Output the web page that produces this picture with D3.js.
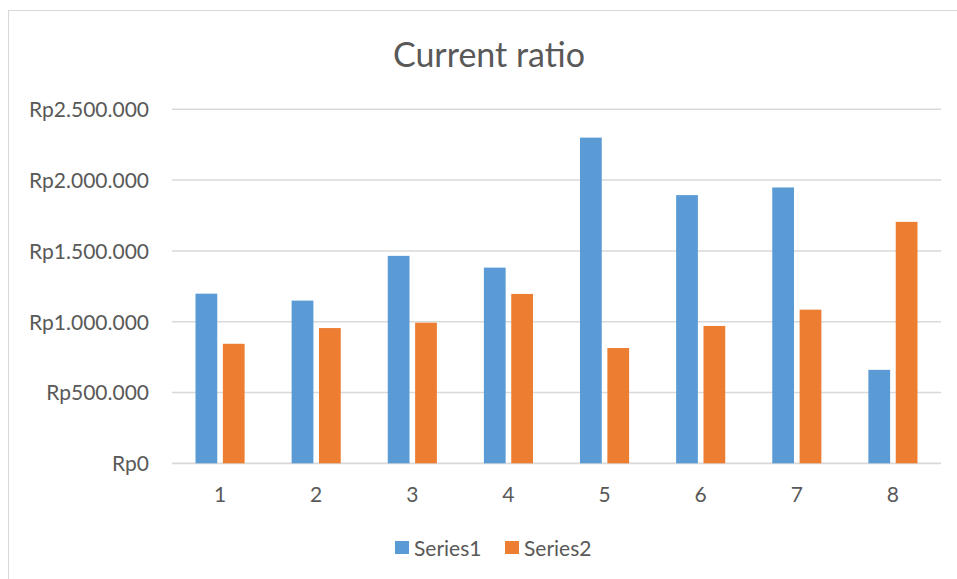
<!DOCTYPE html>
<html>
<head>
<meta charset="utf-8">
<script src="https://cdn.jsdelivr.net/npm/d3@7"></script>
<style>
  html, body { margin: 0; padding: 0; background: #fff; }
  svg { display: block; }
  text { font-family: Lato, "Open Sans", sans-serif; fill: #595959; }
</style>
</head>
<body>
<svg id="chart" width="957" height="579"></svg>
<script>
// Categories and series values (Rupiah)
const categories = ["1", "2", "3", "4", "5", "6", "7", "8"];
const seriesNames = ["Series1", "Series2"];
const series1 = [1198000, 1149000, 1465000, 1382000, 2300000, 1894000, 1948000, 660000];
const series2 = [844000, 955000, 993000, 1196000, 814000, 970000, 1085000, 1705000];
const yTicks = [0, 500000, 1000000, 1500000, 2000000, 2500000];
const colors = ["#5b9bd5", "#ed7d31"];

const svg = d3.select("#chart");
const W = 957, H = 579;
const plot = { left: 172, right: 941, top: 109.3, bottom: 463.3 };

// Outer chart frame
svg.append("rect")
  .attr("x", 8.5).attr("y", 10.5)
  .attr("width", W + 10).attr("height", H + 10)
  .attr("fill", "#fff").attr("stroke", "#d9d9d9").attr("stroke-width", 1);

// Title
svg.append("text")
  .attr("x", 489).attr("y", 67)
  .attr("text-anchor", "middle")
  .attr("font-size", 34)
  .text("Current ratio");

const x0 = d3.scaleBand().domain(categories).range([plot.left, plot.right]).padding(0);
const x1 = d3.scaleBand().domain(seriesNames)
  .range([23.5, x0.bandwidth() - 23.5]).paddingInner(0.205).paddingOuter(0);
const y = d3.scaleLinear().domain([0, 2500000]).range([plot.bottom, plot.top]);

const fmt = v => "Rp" + d3.format(",")(v).replace(/,/g, ".");

// Gridlines
svg.append("g")
  .selectAll("line")
  .data(yTicks)
  .join("line")
  .attr("x1", plot.left).attr("x2", plot.right)
  .attr("y1", d => y(d)).attr("y2", d => y(d))
  .attr("stroke", "#d9d9d9")
  .attr("stroke-width", d => d === 0 ? 1.8 : 1.5);

// Y axis labels
const yAxis = svg.append("g")
  .attr("transform", `translate(149,0)`)
  .call(d3.axisLeft(y).tickValues(yTicks).tickFormat(fmt).tickSize(0).tickPadding(0));
yAxis.select(".domain").remove();
yAxis.selectAll("text")
  .attr("font-size", 21)
  .attr("font-family", "Lato, 'Open Sans', sans-serif")
  .attr("fill", "#595959")
  .attr("dy", "0.35em");

// X axis labels
const xAxis = svg.append("g")
  .attr("transform", `translate(0,${plot.bottom})`)
  .call(d3.axisBottom(x0).tickSize(0).tickPadding(0));
xAxis.select(".domain").remove();
xAxis.selectAll("text")
  .attr("font-size", 21)
  .attr("font-family", "Lato, 'Open Sans', sans-serif")
  .attr("fill", "#595959")
  .attr("y", 38.5)
  .attr("dy", 0);

// Bars
const rows = categories.map((c, i) => ({ cat: c, vals: [series1[i], series2[i]] }));
svg.append("g")
  .selectAll("g")
  .data(rows)
  .join("g")
  .attr("transform", d => `translate(${x0(d.cat)},0)`)
  .selectAll("rect")
  .data(d => d.vals.map((v, k) => ({ name: seriesNames[k], v, k })))
  .join("rect")
  .attr("x", d => x1(d.name))
  .attr("width", x1.bandwidth())
  .attr("y", d => y(d.v))
  .attr("height", d => y(0) - y(d.v))
  .attr("fill", d => colors[d.k]);

// Legend
const legendItems = [
  { name: seriesNames[0], color: colors[0], x: 395 },
  { name: seriesNames[1], color: colors[1], x: 505 }
];
const lg = svg.append("g").selectAll("g").data(legendItems).join("g")
  .attr("transform", d => `translate(${d.x},541)`);
lg.append("rect").attr("width", 14).attr("height", 13).attr("fill", d => d.color);
lg.append("text").attr("x", 19).attr("y", 15)
  .attr("font-size", 21)
  .text(d => d.name);
</script>
</body>
</html>
